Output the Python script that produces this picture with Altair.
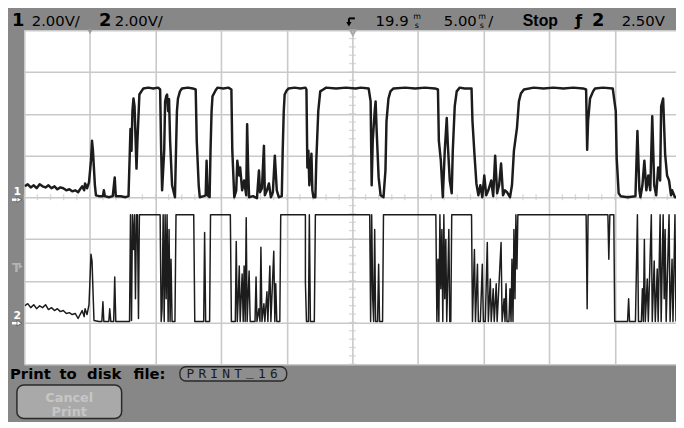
import altair as alt
import pandas as pd

# ---------------- data ----------------
# time in ms from the left edge of the screen (5 ms/div), volts above each channel's ground
ch1_t = [0.04,0.26,0.49,0.72,0.94,1.17,1.39,1.62,1.84,2.07,2.30,2.52,2.75,2.97,3.20,3.43,3.65,3.88,4.10,4.25,4.41,4.56,4.63,4.78,4.93,
         5.08,5.16,5.23,5.38,5.46,5.69,5.99,6.06,6.14,6.44,6.74,6.89,6.97,7.34,7.72,7.94,8.02,8.09,8.17,8.24,8.32,8.40,8.55,8.62,8.77,
         8.92,9.07,9.45,9.83,10.20,10.35,10.43,10.50,10.66,10.73,10.81,10.88,10.96,11.03,11.11,11.26,11.48,11.56,11.63,11.71,11.86,12.01,
         12.46,12.84,13.06,13.14,13.29,13.37,13.67,13.82,13.89,13.97,14.12,14.19,14.27,14.34,14.57,14.72,15.17,15.55,15.78,15.85,16.00,
         16.15,16.23,16.38,16.45,16.60,16.75,16.91,16.98,17.06,17.13,17.43,17.73,17.88,17.96,18.11,18.26,18.33,18.49,18.64,18.79,18.94,
         19.09,19.24,19.39,19.62,19.69,19.77,19.84,19.99,20.14,20.60,21.05,21.42,21.50,21.57,21.65,21.72,21.88,21.95,22.03,22.18,22.25,
         22.40,22.55,22.78,23.00,23.76,24.51,25.26,25.64,26.24,26.39,26.47,26.55,26.70,26.77,26.85,27.00,27.15,27.37,27.52,27.60,27.75,
         27.90,28.13,29.03,29.78,30.53,31.29,31.52,31.59,31.74,31.89,32.04,32.19,32.27,32.42,32.57,32.65,32.80,32.95,33.18,33.55,34.08,
         34.15,34.30,34.45,34.60,34.75,34.90,35.05,35.20,35.36,35.58,35.73,35.88,36.03,36.18,36.33,36.48,36.63,36.78,37.01,37.16,37.31,
         37.46,37.54,37.69,37.84,38.07,38.82,39.57,40.32,41.08,41.83,42.58,42.81,42.89,42.96,43.11,43.34,43.49,44.09,44.84,44.92,45.07,
         45.14,45.29,45.44,45.97,46.57,46.72,46.87,46.95,47.10,47.25,47.40,47.55,47.70,47.85,48.00,48.15,48.30,48.45,48.53,48.68,48.83,
         48.98,49.13,49.28,49.36,49.58,49.66]
ch1_v = [0.52,0.62,0.47,0.57,0.43,0.62,0.52,0.47,0.57,0.43,0.52,0.38,0.47,0.43,0.33,0.38,0.28,0.33,0.24,0.38,0.52,0.33,0.66,0.43,0.71,
         1.75,2.70,2.23,0.57,0.09,0.05,0.05,0.33,0.05,0.00,0.05,0.95,0.05,0.05,0.00,0.05,1.75,3.27,2.23,4.12,4.73,4.36,1.37,2.70,4.92,
         5.07,5.21,5.25,5.21,5.25,5.16,2.23,0.33,2.23,4.59,4.83,4.92,4.12,4.69,2.70,0.57,0.00,2.23,4.12,4.73,5.07,5.21,
         5.25,5.21,5.16,2.70,0.57,0.00,0.05,0.09,1.75,0.09,0.00,2.23,4.12,4.83,5.11,5.25,5.21,5.25,5.16,2.23,0.00,
         0.33,1.75,1.04,1.42,0.33,0.80,0.09,3.50,1.28,0.00,0.05,-0.05,1.28,0.24,0.43,2.46,0.09,0.33,0.66,0.00,0.24,
         1.99,0.33,0.00,0.05,2.23,4.12,4.92,5.11,5.21,5.25,5.21,5.25,5.16,1.42,2.23,0.57,2.08,0.33,0.00,0.00,1.75,
         4.12,5.07,5.16,5.25,5.21,5.25,5.21,5.25,5.21,4.59,0.57,2.70,4.12,4.59,3.17,0.95,0.09,0.00,1.28,3.65,4.73,
         5.07,5.21,5.25,5.21,5.25,5.21,5.16,2.70,1.75,0.00,2.23,3.79,2.56,0.80,0.19,2.23,4.36,5.07,5.25,5.21,5.21,
         3.65,2.08,0.66,0.09,0.57,0.00,1.04,0.09,0.33,0.80,0.05,1.99,0.19,0.57,1.61,0.09,0.33,0.24,0.00,0.57,2.23,
         2.94,3.31,4.59,4.97,5.16,5.25,5.21,5.25,5.21,5.25,5.21,5.16,2.27,3.65,4.73,5.07,5.21,5.25,5.21,4.83,4.12,
         1.89,0.19,0.05,0.00,0.05,3.17,0.33,0.00,0.57,1.75,0.33,1.04,0.33,3.88,0.57,0.09,1.42,0.80,4.36,4.73,2.08,
         1.04,0.80,0.09,0.33,0.00,0.00]

ch2_t = [0.04,0.26,0.49,0.72,0.94,1.17,1.39,1.62,1.84,2.07,2.30,2.52,2.75,2.97,3.20,3.43,3.65,3.88,4.10,4.25,4.41,4.56,4.63,4.78,4.93,
         5.08,5.16,5.23,5.31,5.69,5.91,5.99,6.06,6.44,6.51,6.59,6.81,6.89,6.97,7.57,8.02,8.09,8.17,8.24,8.32,8.40,8.47,8.55,8.62,8.70,
         8.77,9.45,10.35,10.43,10.50,10.58,10.66,10.73,10.81,10.88,10.96,11.03,11.11,11.18,11.26,11.48,11.56,12.91,12.99,13.67,13.74,
         13.82,14.12,14.19,15.70,15.78,16.08,16.15,16.23,16.30,16.38,16.45,16.60,16.68,16.75,16.83,16.91,16.98,17.13,17.21,17.58,17.66,
         17.73,17.88,17.96,18.03,18.11,18.26,18.33,18.49,18.56,18.71,18.79,19.01,19.09,19.16,19.24,19.47,19.54,21.42,21.42,21.50,21.65,
         21.72,21.80,22.10,22.18,26.32,26.39,26.47,26.55,26.62,26.70,26.77,26.92,27.00,27.07,27.30,27.37,31.36,31.44,31.52,31.59,31.67,
         31.74,31.82,31.89,31.97,32.04,32.12,32.19,32.27,32.35,32.42,32.50,32.57,34.08,34.15,34.30,34.38,34.53,34.60,34.75,34.90,34.98,
         35.13,35.28,35.36,35.51,35.58,35.73,35.81,35.96,36.03,36.33,36.41,36.56,36.63,36.71,36.78,36.93,37.01,37.09,37.16,37.24,37.31,
         37.39,37.46,37.54,37.61,37.69,42.81,42.89,42.96,44.47,44.54,44.62,44.92,44.99,45.97,46.05,46.12,46.57,46.72,46.80,47.02,47.10,
         47.17,47.25,47.32,47.47,47.55,47.78,47.85,48.00,48.08,48.23,48.30,48.45,48.53,48.68,48.76,48.83,48.91,49.13,49.21,49.36,49.43,
         49.58,49.66]
ch2_v = [0.80,0.90,0.71,0.85,0.66,0.80,0.71,0.85,0.62,0.71,0.57,0.66,0.52,0.57,0.43,0.47,0.38,0.43,0.19,0.38,0.57,0.28,0.66,0.38,0.85,
         3.27,2.94,1.61,0.09,0.05,0.05,0.99,0.05,0.05,0.66,0.05,0.05,2.18,0.05,0.05,0.05,5.16,0.09,5.16,3.50,5.16,1.14,5.16,5.16,0.19,
         5.16,5.16,5.16,0.05,0.66,5.16,0.05,5.16,1.14,5.16,0.05,4.45,0.05,3.03,0.05,0.05,5.16,5.16,0.05,0.05,4.31,
         0.05,0.05,5.16,5.16,0.05,0.05,3.88,0.05,1.14,2.70,0.05,2.32,0.05,2.70,0.05,5.02,0.05,2.46,0.05,0.05,2.18,
         0.05,0.66,0.05,3.60,0.05,0.90,0.05,1.47,0.05,2.70,0.05,3.41,0.05,1.85,0.05,0.05,5.16,5.16,1.94,0.05,0.05,
         5.16,0.05,0.05,5.16,5.16,0.05,5.16,1.14,0.05,4.45,0.05,0.05,2.79,0.05,0.05,5.16,5.16,0.05,3.03,0.05,5.16,
         1.61,4.45,0.05,5.16,1.14,3.98,0.05,2.08,4.45,0.05,0.05,5.16,5.16,0.05,3.50,0.05,2.79,0.05,0.05,2.79,0.05,
         0.05,3.83,0.05,2.08,0.05,1.61,0.05,1.85,0.05,3.83,0.05,1.14,0.05,1.85,0.05,0.05,1.61,0.05,3.03,0.05,4.45,
         1.14,5.16,2.56,5.16,5.16,5.16,0.66,5.16,5.16,3.03,5.16,5.16,0.05,0.05,1.14,0.05,0.05,5.16,0.05,0.05,1.61,
         0.05,3.98,0.05,2.08,0.05,5.16,0.05,2.94,0.05,2.56,0.05,5.16,0.05,5.16,1.14,4.45,0.05,5.16,0.05,3.03,0.05,
         5.16,0.05]

# scope settings
time_per_div = 5.0          # ms/div
volts_per_div = 2.0         # V/div for both channels
ch1_ground = 0.0            # divisions from centre
ch2_ground = -3.0
t_visible = 49.66           # ms visible on the cropped screen

major_t = [0, 5, 10, 15, 20, 25, 30, 35, 40, 45]
major_y = [-4, -3, -2, -1, 0, 1, 2, 3, 4]
minor_t = [float(k) for k in range(50)]
minor_y = [round(-4 + 0.2 * k, 2) for k in range(41)]

# screen texts
txt_ch1_num, txt_ch1_scale = "1", "2.00V/"
txt_ch2_num, txt_ch2_scale = "2", "2.00V/"
txt_delay, txt_timebase = "19.9", "5.00"
txt_run, txt_slope, txt_trig_src, txt_trig_lvl = "Stop", "ƒ", "2", "2.50V"
bottom_words = ["Print", "to", "disk", "file:"]
file_name = "PRINT_16"
button_lines = ["Cancel", "Print"]

# ---------------- chart ----------------
GRID = "#c9c9c9"
TRACE = "#1c1c1c"
BG = "#878787"

xs = alt.Scale(domain=[0, t_visible], nice=False, zero=False)
ys = alt.Scale(domain=[-4, 4], nice=False, zero=False)
xa = alt.Axis(values=major_t, grid=True, labels=False, ticks=False, domain=False, title=None,
              gridColor=GRID, gridWidth=1.6)
ya = alt.Axis(values=major_y, grid=True, labels=False, ticks=False, domain=False, title=None,
              gridColor=GRID, gridWidth=1.6)

one = pd.DataFrame({"s": ["x"]})


def txt(s, x, y, size=15, weight="normal", color="black", font="DejaVu Sans", align="left"):
    return alt.Chart(pd.DataFrame({"s": [s]})).mark_text(
        font=font, fontSize=size, fontWeight=weight, color=color, align=align, baseline="alphabetic"
    ).encode(text="s:N", x=alt.value(x), y=alt.value(y))


def trace(t, v, ground, width):
    df = pd.DataFrame({"t": t, "v": v, "i": range(len(t))})
    return alt.Chart(df).transform_calculate(
        pos=f"datum.v / {volts_per_div} + ({ground})"
    ).mark_line(color=TRACE, strokeWidth=width, clip=True, strokeJoin="round").encode(
        x=alt.X("t:Q", scale=xs, axis=xa),
        y=alt.Y("pos:Q", scale=ys, axis=ya),
        order="i:Q",
    )


ticks_v = alt.Chart(pd.DataFrame({"y": minor_y, "t": [25.0] * len(minor_y)})).mark_tick(
    orient="horizontal", size=7, thickness=1.3, color=GRID
).encode(x=alt.X("t:Q", scale=xs, axis=xa), y=alt.Y("y:Q", scale=ys, axis=ya))
ticks_h = alt.Chart(pd.DataFrame({"t": minor_t, "y": [0.0] * len(minor_t)})).mark_tick(
    orient="vertical", size=6, thickness=1.3, color=GRID
).encode(x=alt.X("t:Q", scale=xs, axis=xa), y=alt.Y("y:Q", scale=ys, axis=ya))

layers = [ticks_v, ticks_h,
          trace(ch2_t, ch2_v, ch2_ground, 1.5),
          trace(ch1_t, ch1_v, ch1_ground, 2.5)]

# top status line
layers += [
    txt(txt_ch1_num, -12.5, -4, size=18, weight="bold"),
    txt(txt_ch1_scale, 7.5, -4),
    txt(txt_ch2_num, 75.5, -4, size=18, weight="bold"),
    txt(txt_ch2_scale, 91.5, -4),
    txt(txt_delay, 355.5, -4),
    txt("m", 393.5, -11.5, size=8), txt("s", 395.0, -2.5, size=8),
    txt(txt_timebase, 424.5, -4),
    txt("m", 459.5, -11.5, size=8), txt("s", 461.0, -2.5, size=8),
    txt("/", 469.5, -4),
    txt(txt_run, 504.5, -4, size=16, weight="bold", font="Liberation Sans"),
    txt(txt_slope, 557.5, -4, size=16, weight="bold"),
    txt(txt_trig_src, 574.5, -4, size=18, weight="bold"),
    txt(txt_trig_lvl, 604.5, -4),
]
# trigger position glyph
layers += [
    alt.Chart(one).mark_rule(color="black", strokeWidth=2).encode(
        x=alt.value(328.5), x2=alt.value(334.5), y=alt.value(-12)),
    alt.Chart(one).mark_rule(color="black", strokeWidth=2).encode(
        x=alt.value(328.5), y=alt.value(-12), y2=alt.value(-6)),
    alt.Chart(one).mark_point(shape="triangle-down", filled=True, size=28, color="black", opacity=1).encode(
        x=alt.value(328.5), y=alt.value(-6)),
    alt.Chart(one).mark_point(shape="triangle-down", filled=False, size=28, color="#a8a8a8", opacity=1).encode(
        x=alt.value(332.5), y=alt.value(2.5)),
    alt.Chart(one).mark_point(shape="triangle-down", filled=True, size=30, color="#9a9a9a", opacity=1).encode(
        x=alt.value(66.5), y=alt.value(1.5)),
]
# left side markers
for lab, y in [("1", 167), ("2", 292)]:
    layers += [
        txt(lab, -11.0, y, size=11, weight="bold", color="white"),
        alt.Chart(one).mark_rule(color="white", strokeWidth=2.5).encode(
            x=alt.value(-12.5), x2=alt.value(-6.5), y=alt.value(y + 4.5)),
        alt.Chart(one).mark_point(shape="triangle-right", filled=True, size=30, color="white",
                                  stroke="#333333", strokeWidth=0.6, opacity=1).encode(
            x=alt.value(-5.0), y=alt.value(y + 4.5)),
    ]
layers += [
    txt("T", -12.5, 245, size=13, weight="bold", color="#b4b4b4"),
    alt.Chart(one).mark_point(shape="triangle-right", filled=True, size=22, color="#b4b4b4", opacity=1).encode(
        x=alt.value(-3.5), y=alt.value(239)),
]

# bottom softkey area
for w, x in zip(bottom_words, [-14.5, 35.5, 63.5, 110.5]):
    layers.append(txt(w, x, 353, size=15, weight="bold"))
layers.append(alt.Chart(one).mark_rect(cornerRadius=6, fill="#8e8e8e", stroke="#2a2a2a", strokeWidth=1.4).encode(
    x=alt.value(157.5), x2=alt.value(265.5), y=alt.value(340.5), y2=alt.value(355)))
for k, ch in enumerate(file_name):
    layers.append(txt(ch, 168 + 12.07 * k, 349.5 if ch == "_" else 352, size=13,
                      font="DejaVu Sans Mono", color="#1a1a1a", align="center"))
layers.append(alt.Chart(one).mark_rect(cornerRadius=7, fill="#a9a9a9", stroke="#2a2a2a", strokeWidth=1.5).encode(
    x=alt.value(-7.5), x2=alt.value(98.5), y=alt.value(359), y2=alt.value(393)))
layers.append(txt(button_lines[0], 45.5, 376, size=13, weight="bold", color="#c6c6c6", align="center"))
layers.append(txt(button_lines[1], 45.5, 390, size=13, weight="bold", color="#c6c6c6", align="center"))

chart = alt.layer(*layers).properties(
    width=659.5, height=338, background=BG,
    padding={"left": 16.5, "top": 20, "right": 0, "bottom": 56},
    autosize=alt.AutoSizeParams(type="none"),
).configure_view(fill="white", strokeWidth=0)

chart.save("out.html", embed_options={"renderer": "svg", "actions": False})
